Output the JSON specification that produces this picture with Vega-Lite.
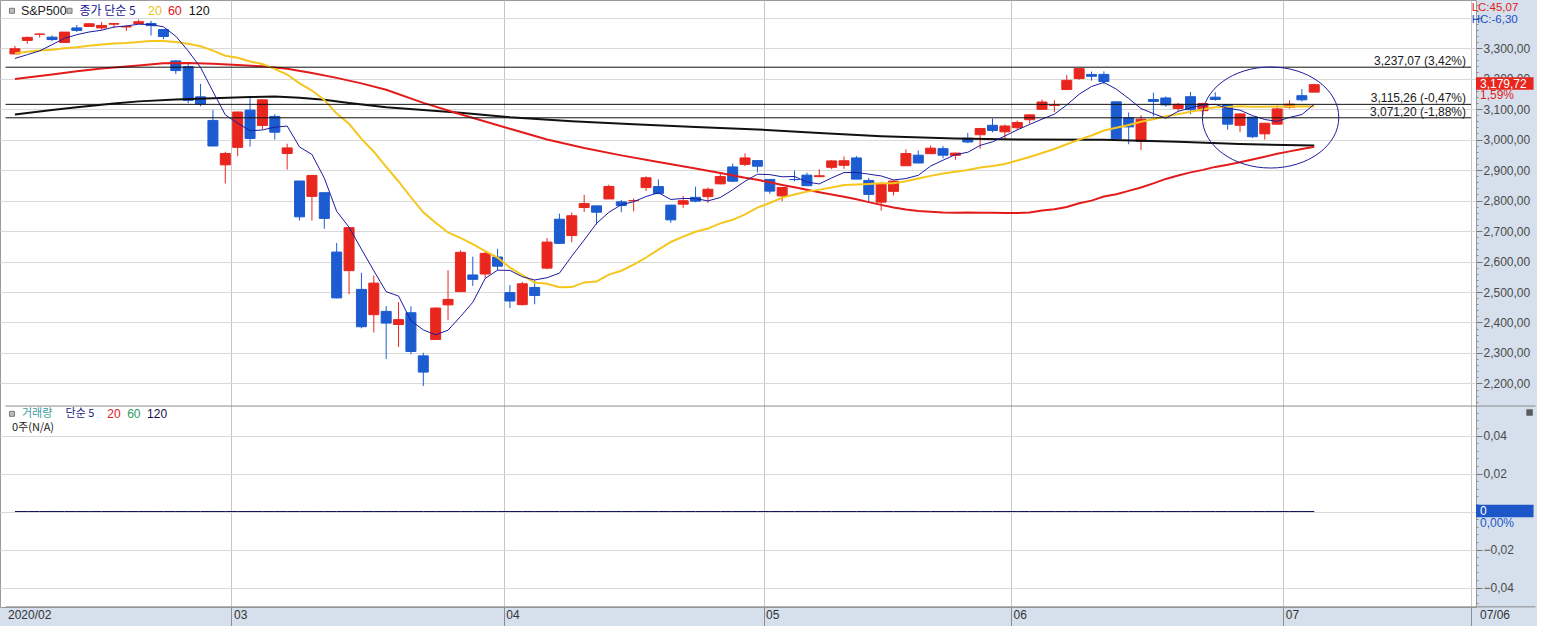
{
"$schema": "https://vega.github.io/schema/vega-lite/v6.json",
"width": 1476,
"height": 607,
"padding": 0,
"background": "#d6e0ec",
"config": {"view": {"fill": "#ffffff", "stroke": "#9a9a9a", "strokeWidth": 1}, "font": "Liberation Sans"},
"datasets": {
"candles": [
{"i":0,"o":3280.61,"h":3306.92,"l":3280.61,"c":3297.59,"m5":3265.82,"m20":3282.49,"m60":3198,"m120":3082,"v":0},
{"i":1,"o":3324.91,"h":3337.58,"l":3313.75,"c":3334.69,"m5":3278.08,"m20":3287.37,"v":0},
{"i":2,"o":3344.92,"h":3347.96,"l":3334.39,"c":3345.78,"m5":3290.50,"m20":3292.00,"v":0},
{"i":3,"o":3335.54,"h":3341.42,"l":3322.12,"c":3327.71,"m5":3310.94,"m20":3294.65,"m60":3213,"m120":3097,"v":0},
{"i":4,"o":3318.28,"h":3352.26,"l":3317.77,"c":3352.09,"m5":3331.57,"m20":3298.99,"v":0},
{"i":5,"o":3365.87,"h":3375.63,"l":3352.72,"c":3357.75,"m5":3343.60,"m20":3302.47,"m60":3224,"m120":3106,"v":0},
{"i":6,"o":3370.50,"h":3381.47,"l":3369.72,"c":3379.45,"m5":3352.56,"m20":3307.29,"v":0},
{"i":7,"o":3365.90,"h":3385.09,"l":3360.52,"c":3373.94,"m5":3358.19,"m20":3311.52,"m60":3233,"v":0},
{"i":8,"o":3378.08,"h":3380.69,"l":3366.15,"c":3380.16,"m5":3368.68,"m20":3314.69,"m120":3118,"v":0},
{"i":9,"o":3369.04,"h":3375.01,"l":3355.61,"c":3370.29,"m5":3372.32,"m20":3316.72,"v":0},
{"i":10,"o":3380.39,"h":3393.52,"l":3378.83,"c":3386.15,"m5":3378.00,"m20":3319.99,"m60":3243,"m120":3125,"v":0},
{"i":11,"o":3380.45,"h":3389.15,"l":3341.02,"c":3373.23,"m5":3376.75,"m20":3322.56,"v":0},
{"i":12,"o":3360.50,"h":3360.76,"l":3328.45,"c":3337.75,"m5":3369.52,"m20":3323.17,"m60":3250,"v":0},
{"i":13,"o":3257.61,"h":3259.81,"l":3214.65,"c":3225.89,"m5":3338.66,"m20":3319.69,"m120":3131,"v":0},
{"i":14,"o":3238.94,"h":3246.99,"l":3118.77,"c":3128.21,"m5":3290.25,"m20":3313.92,"m60":3251,"v":0},
{"i":15,"o":3139.90,"h":3182.51,"l":3108.99,"c":3116.39,"m5":3236.29,"m20":3305.93,"v":0},
{"i":16,"o":3062.54,"h":3097.07,"l":2977.39,"c":2978.76,"m5":3157.40,"m20":3291.20,"m60":3248,"m120":3135,"v":0},
{"i":17,"o":2916.90,"h":2959.72,"l":2855.84,"c":2954.22,"m5":3080.69,"m20":3274.72,"v":0},
{"i":18,"o":2974.28,"h":3090.96,"l":2945.19,"c":3090.23,"m5":3053.56,"m20":3267.96,"m60":3244,"v":0},
{"i":19,"o":3096.46,"h":3136.72,"l":2976.63,"c":3003.37,"m5":3028.59,"m20":3255.68,"m120":3139,"v":0},
{"i":20,"o":3045.75,"h":3130.97,"l":3034.38,"c":3130.12,"m5":3031.34,"m20":3247.31,"m60":3240,"v":0},
{"i":21,"o":3075.70,"h":3083.04,"l":2999.83,"c":3023.94,"m5":3040.38,"m20":3231.77,"m120":3141,"v":0},
{"i":22,"o":2954.20,"h":2985.93,"l":2901.54,"c":2972.37,"m5":3044.01,"m20":3213.10,"m60":3232,"v":0},
{"i":23,"o":2863.89,"h":2863.89,"l":2734.43,"c":2746.56,"m5":2975.27,"m20":3184.04,"m120":3137,"v":0},
{"i":24,"o":2813.48,"h":2882.59,"l":2734.00,"c":2882.23,"m5":2951.04,"m20":3160.55,"m60":3218,"v":0},
{"i":25,"o":2825.60,"h":2825.60,"l":2707.22,"c":2741.38,"m5":2873.30,"m20":3129.73,"m120":3130,"v":0},
{"i":26,"o":2630.86,"h":2660.95,"l":2478.86,"c":2480.64,"m5":2764.64,"m20":3084.79,"m60":3202,"v":0},
{"i":27,"o":2569.99,"h":2711.33,"l":2492.37,"c":2711.02,"m5":2712.37,"m20":3051.65,"m120":3120,"v":0},
{"i":28,"o":2508.59,"h":2562.98,"l":2380.94,"c":2386.13,"m5":2640.28,"m20":3001.94,"m60":3184,"v":0},
{"i":29,"o":2425.66,"h":2553.93,"l":2367.04,"c":2529.19,"m5":2569.67,"m20":2959.89,"v":0},
{"i":30,"o":2436.50,"h":2453.57,"l":2280.52,"c":2398.10,"m5":2501.02,"m20":2910.49,"m60":3163,"m120":3106,"v":0},
{"i":31,"o":2393.48,"h":2466.97,"l":2319.78,"c":2409.39,"m5":2486.77,"m20":2862.29,"v":0},
{"i":32,"o":2431.94,"h":2453.01,"l":2295.56,"c":2304.92,"m5":2405.55,"m20":2810.65,"v":0},
{"i":33,"o":2290.71,"h":2300.73,"l":2191.86,"c":2237.40,"m5":2375.80,"m20":2761.23,"m60":3120,"m120":3097,"v":0},
{"i":34,"o":2344.44,"h":2449.71,"l":2344.44,"c":2447.33,"m5":2359.43,"m20":2727.18,"v":0},
{"i":35,"o":2457.77,"h":2571.42,"l":2407.53,"c":2475.56,"m5":2374.92,"m20":2695.14,"v":0},
{"i":36,"o":2501.29,"h":2637.01,"l":2500.72,"c":2630.07,"m5":2419.06,"m20":2677.71,"m60":3083,"m120":3088,"v":0},
{"i":37,"o":2555.87,"h":2615.91,"l":2520.02,"c":2541.47,"m5":2466.37,"m20":2657.07,"v":0},
{"i":38,"o":2558.98,"h":2631.80,"l":2545.28,"c":2626.65,"m5":2544.22,"m20":2633.89,"v":0},
{"i":39,"o":2614.69,"h":2641.39,"l":2571.15,"c":2584.59,"m5":2571.67,"m20":2612.95,"v":0},
{"i":40,"o":2498.08,"h":2522.75,"l":2447.49,"c":2470.50,"m5":2570.66,"m20":2579.97,"m60":3035,"m120":3073,"v":0},
{"i":41,"o":2458.54,"h":2533.22,"l":2455.79,"c":2526.90,"m5":2550.02,"m20":2555.12,"v":0},
{"i":42,"o":2514.92,"h":2538.18,"l":2459.96,"c":2488.65,"m5":2539.46,"m20":2530.93,"v":0},
{"i":43,"o":2578.28,"h":2676.85,"l":2574.57,"c":2663.68,"m5":2546.86,"m20":2526.79,"m60":3000,"v":0},
{"i":44,"o":2738.65,"h":2756.89,"l":2657.67,"c":2659.41,"m5":2561.83,"m20":2515.65,"v":0},
{"i":45,"o":2685.00,"h":2760.75,"l":2663.30,"c":2749.98,"m5":2617.72,"m20":2516.08,"m120":3060,"v":0},
{"i":46,"o":2776.99,"h":2818.57,"l":2762.36,"c":2789.82,"m5":2670.31,"m20":2531.54,"m60":2972,"v":0},
{"i":47,"o":2782.46,"h":2782.46,"l":2721.17,"c":2761.63,"m5":2724.90,"m20":2534.07,"v":0},
{"i":48,"o":2805.10,"h":2851.85,"l":2805.10,"c":2846.06,"m5":2761.38,"m20":2557.07,"v":0},
{"i":49,"o":2795.64,"h":2801.88,"l":2761.54,"c":2783.36,"m5":2786.17,"m20":2569.77,"m60":2948,"v":0},
{"i":50,"o":2799.34,"h":2806.51,"l":2764.32,"c":2799.55,"m5":2796.08,"m20":2589.85,"m120":3050,"v":0},
{"i":51,"o":2842.43,"h":2879.22,"l":2830.88,"c":2874.56,"m5":2813.03,"m20":2613.10,"v":0},
{"i":52,"o":2845.62,"h":2868.98,"l":2820.43,"c":2823.16,"m5":2825.34,"m20":2639.02,"m60":2926,"v":0},
{"i":53,"o":2784.81,"h":2785.54,"l":2727.10,"c":2736.56,"m5":2803.44,"m20":2663.97,"v":0},
{"i":54,"o":2787.89,"h":2815.10,"l":2775.95,"c":2799.31,"m5":2806.63,"m20":2681.57,"v":0},
{"i":55,"o":2810.42,"h":2844.90,"l":2794.26,"c":2797.80,"m5":2806.28,"m20":2697.69,"m60":2905,"m120":3041,"v":0},
{"i":56,"o":2812.64,"h":2842.71,"l":2791.76,"c":2836.74,"m5":2798.71,"m20":2708.02,"v":0},
{"i":57,"o":2854.65,"h":2887.72,"l":2852.89,"c":2878.48,"m5":2809.78,"m20":2724.87,"m60":2890,"v":0},
{"i":58,"o":2909.96,"h":2921.15,"l":2860.71,"c":2863.39,"m5":2835.14,"m20":2736.71,"v":0},
{"i":59,"o":2918.46,"h":2954.86,"l":2912.16,"c":2939.51,"m5":2863.18,"m20":2754.45,"m60":2874.36,"v":0},
{"i":60,"o":2930.91,"h":2930.91,"l":2892.47,"c":2912.43,"m5":2886.11,"m20":2776.55,"m60":2867.94,"m120":3033,"v":0},
{"i":61,"o":2869.09,"h":2869.09,"l":2821.61,"c":2830.71,"m5":2884.90,"m20":2791.74,"m60":2859.54,"v":0},
{"i":62,"o":2815.01,"h":2844.24,"l":2797.85,"c":2842.74,"m5":2877.76,"m20":2809.44,"m60":2851.16,"v":0},
{"i":63,"o":2868.88,"h":2898.23,"l":2863.55,"c":2868.44,"m5":2878.77,"m20":2819.68,"m60":2843.51,"v":0},
{"i":64,"o":2883.14,"h":2891.11,"l":2847.65,"c":2848.42,"m5":2860.55,"m20":2829.13,"m60":2835.11,"v":0},
{"i":65,"o":2878.26,"h":2901.92,"l":2876.48,"c":2881.19,"m5":2854.30,"m20":2835.69,"m60":2827.17,"m120":3021,"v":0},
{"i":66,"o":2908.83,"h":2932.16,"l":2902.88,"c":2929.80,"m5":2874.12,"m20":2842.69,"m60":2819.67,"v":0},
{"i":67,"o":2915.46,"h":2944.25,"l":2903.44,"c":2930.32,"m5":2891.63,"m20":2851.13,"m60":2812.28,"v":0},
{"i":68,"o":2939.50,"h":2945.82,"l":2869.59,"c":2870.12,"m5":2891.97,"m20":2852.33,"m60":2803.78,"v":0},
{"i":69,"o":2865.86,"h":2874.14,"l":2793.15,"c":2820.00,"m5":2886.29,"m20":2854.16,"m60":2794.61,"v":0},
{"i":70,"o":2794.54,"h":2852.80,"l":2766.64,"c":2852.50,"m5":2880.55,"m20":2856.81,"m60":2785.71,"m120":3011,"v":0},
{"i":71,"o":2829.95,"h":2865.01,"l":2816.78,"c":2863.70,"m5":2867.33,"m20":2856.27,"m60":2777.22,"v":0},
{"i":72,"o":2913.86,"h":2968.09,"l":2913.86,"c":2953.91,"m5":2872.05,"m20":2862.80,"m60":2770.82,"v":0},
{"i":73,"o":2948.59,"h":2964.21,"l":2922.35,"c":2922.94,"m5":2882.61,"m20":2872.12,"m60":2765.78,"v":0},
{"i":74,"o":2953.63,"h":2980.29,"l":2953.63,"c":2971.61,"m5":2912.93,"m20":2880.74,"m60":2763.17,"v":0},
{"i":75,"o":2969.95,"h":2978.50,"l":2938.57,"c":2948.51,"m5":2932.13,"m20":2888.27,"m60":2760.37,"v":0},
{"i":76,"o":2948.05,"h":2956.76,"l":2933.59,"c":2955.45,"m5":2950.48,"m20":2894.21,"m60":2759.98,"m120":3003,"v":0},
{"i":77,"o":3004.08,"h":3021.72,"l":2988.17,"c":2991.77,"m5":2958.06,"m20":2899.87,"m60":2760.60,"v":0},
{"i":78,"o":3015.65,"h":3036.25,"l":2969.75,"c":3036.13,"m5":2980.69,"m20":2908.51,"m60":2759.70,"v":0},
{"i":79,"o":3046.61,"h":3068.67,"l":3023.40,"c":3029.73,"m5":2992.32,"m20":2913.02,"m60":2760.14,"v":0},
{"i":80,"o":3025.17,"h":3049.17,"l":2998.61,"c":3044.31,"m5":3011.48,"m20":2919.62,"m60":2758.71,"v":0},
{"i":81,"o":3038.78,"h":3062.18,"l":3031.54,"c":3055.73,"m5":3031.53,"m20":2930.87,"m60":2759.24,"m120":3000,"v":0},
{"i":82,"o":3064.78,"h":3081.07,"l":3051.64,"c":3080.82,"m5":3049.34,"m20":2942.77,"m60":2761.05,"v":0},
{"i":83,"o":3098.90,"h":3130.94,"l":3098.90,"c":3122.87,"m5":3066.69,"m20":2955.49,"m60":2767.32,"v":0},
{"i":84,"o":3111.56,"h":3128.91,"l":3090.41,"c":3112.35,"m5":3083.22,"m20":2968.69,"m60":2771.16,"v":0},
{"i":85,"o":3163.84,"h":3211.72,"l":3163.84,"c":3193.93,"m5":3113.14,"m20":2984.33,"m60":2778.70,"v":0},
{"i":86,"o":3199.92,"h":3233.13,"l":3196.00,"c":3232.39,"m5":3148.47,"m20":2999.45,"m60":2791.23,"v":0},
{"i":87,"o":3213.32,"h":3222.71,"l":3193.11,"c":3207.18,"m5":3173.74,"m20":3013.30,"m60":2799.50,"v":0},
{"i":88,"o":3213.42,"h":3223.27,"l":3181.49,"c":3190.14,"m5":3187.20,"m20":3029.30,"m60":2812.90,"m120":2999,"v":0},
{"i":89,"o":3123.53,"h":3123.53,"l":2999.49,"c":3002.10,"m5":3165.15,"m20":3038.40,"m60":2820.78,"v":0},
{"i":90,"o":3071.04,"h":3088.42,"l":2984.47,"c":3041.31,"m5":3134.62,"m20":3047.84,"m60":2831.50,"v":0},
{"i":91,"o":2993.76,"h":3079.76,"l":2965.66,"c":3066.59,"m5":3101.46,"m20":3057.99,"m60":2842.45,"v":0},
{"i":92,"o":3131.00,"h":3153.45,"l":3076.06,"c":3124.74,"m5":3084.98,"m20":3066.53,"m60":2856.12,"v":0},
{"i":93,"o":3136.13,"h":3141.16,"l":3108.03,"c":3113.49,"m5":3069.65,"m20":3076.06,"m60":2870.72,"v":0},
{"i":94,"o":3101.64,"h":3120.00,"l":3093.51,"c":3115.34,"m5":3092.29,"m20":3083.24,"m60":2881.85,"m120":2993,"v":0},
{"i":95,"o":3140.29,"h":3155.53,"l":3083.11,"c":3097.74,"m5":3103.58,"m20":3090.71,"m60":2892.22,"v":0},
{"i":96,"o":3094.42,"h":3120.92,"l":3079.39,"c":3117.86,"m5":3113.83,"m20":3098.83,"m60":2900.35,"v":0},
{"i":97,"o":3138.70,"h":3154.90,"l":3127.12,"c":3131.29,"m5":3115.14,"m20":3105.80,"m60":2910.18,"v":0},
{"i":98,"o":3114.40,"h":3115.01,"l":3032.13,"c":3050.33,"m5":3102.51,"m20":3106.51,"m60":2917.24,"v":0},
{"i":99,"o":3046.60,"h":3086.25,"l":3024.01,"c":3083.76,"m5":3096.20,"m20":3109.21,"m60":2925.56,"m120":2985,"v":0},
{"i":100,"o":3073.20,"h":3073.73,"l":3004.63,"c":3009.05,"m5":3078.46,"m20":3107.45,"m60":2934.54,"v":0},
{"i":101,"o":3018.59,"h":3053.89,"l":2999.74,"c":3053.24,"m5":3065.53,"m20":3107.33,"m60":2943.31,"v":0},
{"i":102,"o":3050.20,"h":3111.51,"l":3047.83,"c":3100.29,"m5":3059.33,"m20":3108.30,"m60":2953.50,"v":0},
{"i":103,"o":3105.92,"h":3128.44,"l":3101.17,"c":3115.86,"m5":3072.44,"m20":3107.95,"m60":2961.04,"v":0},
{"i":104,"o":3143.64,"h":3165.81,"l":3124.52,"c":3130.01,"m5":3081.69,"m20":3108.83,"m60":2968.88,"v":0},
{"i":105,"o":3155.29,"h":3182.59,"l":3155.29,"c":3179.72,"m5":3115.82,"m20":3108.12,"m60":2976.05,"m120":2980,"v":0}
],
"levels": [
{"lv":3237.07,"t":"3,237,07 (3,42%)"},
{"lv":3115.26,"t":"3,115,26 (-0,47%)"},
{"lv":3071.20,"t":"3,071,20 (-1,88%)"}
]
},
"resolve": {"scale": {"y": "independent"}, "axis": {"y": "independent"}},
"layer": [
{"data": {"name": "candles"},
 "mark": {"type": "rule", "strokeWidth": 1},
 "encoding": {
  "x": {"field": "i", "type": "quantitative", "scale": {"domain": [-0.803, 117.666], "nice": false, "zero": false},
   "axis": {"values": [17.5, 39.5, 60.5, 80.5, 102.5, 117.666], "title": null, "grid": true, "gridColor": "#c6c6c6",
    "domain": false, "ticks": true, "tickSize": 19, "tickColor": "#8c8c8c",
    "labelExpr": "datum.value < 20 ? '03' : datum.value < 40 ? '04' : datum.value < 61 ? '05' : datum.value < 81 ? '06' : datum.value < 110 ? '07' : ''",
    "labelAlign": "left", "labelBaseline": "top", "labelPadding": -17, "labelOffset": 2,
    "labelFont": "Liberation Sans", "labelFontSize": 12, "labelColor": "#333333",
    "labelOverlap": false, "labelFlush": false, "labelBound": false}},
  "y": {"field": "l", "type": "quantitative", "scale": {"domain": [1467.21, 3457.38], "nice": false, "zero": false},
   "axis": {"orient": "right", "title": null,
    "values": [2200,2300,2400,2500,2600,2700,2800,2900,3000,3100,3200,3300,3400],
    "grid": true, "gridColor": "#d9d9d9",
    "domain": false, "ticks": true, "tickColor": "#777777", "tickSize": 6,
    "labelExpr": "datum.value <= 3300 ? replace(format(datum.value, ',.2f'), '.', ',') : ''",
    "labelPadding": 1, "labelFont": "Liberation Sans", "labelFontSize": 12, "labelColor": "#4a4a4a", "labelBaseline": "middle",
    "labelOverlap": false, "labelBound": false, "labelFlush": false}},
  "y2": {"field": "h"},
  "color": {"condition": {"test": "datum.c >= datum.o", "value": "#e8261e"}, "value": "#1c5cd0"}
 }},
{"data": {"name": "candles"},
 "mark": {"type": "bar", "size": 10, "strokeWidth": 1, "orient": "vertical", "opacity": 1},
 "encoding": {
  "x": {"field": "i", "type": "quantitative"},
  "y": {"field": "o", "type": "quantitative", "scale": {"domain": [1467.21, 3457.38], "nice": false, "zero": false}, "axis": null},
  "y2": {"field": "c"},
  "color": {"condition": {"test": "datum.c >= datum.o", "value": "#e8261e"}, "value": "#1c5cd0"},
  "stroke": {"condition": {"test": "datum.c >= datum.o", "value": "#e8261e"}, "value": "#1c5cd0"}
 }},
{"data": {"name": "candles"}, "transform": [{"filter": "isValid(datum.m120)"}],
 "mark": {"type": "line", "color": "#111111", "strokeWidth": 2},
 "encoding": {"x": {"field": "i", "type": "quantitative"}, "y": {"field": "m120", "type": "quantitative", "scale": {"domain": [1467.21, 3457.38], "nice": false, "zero": false}, "axis": null}}},
{"data": {"name": "candles"}, "transform": [{"filter": "isValid(datum.m60)"}],
 "mark": {"type": "line", "color": "#e31b1b", "strokeWidth": 2},
 "encoding": {"x": {"field": "i", "type": "quantitative"}, "y": {"field": "m60", "type": "quantitative", "scale": {"domain": [1467.21, 3457.38], "nice": false, "zero": false}, "axis": null}}},
{"data": {"name": "candles"},
 "mark": {"type": "line", "color": "#f5c61e", "strokeWidth": 2},
 "encoding": {"x": {"field": "i", "type": "quantitative"}, "y": {"field": "m20", "type": "quantitative", "scale": {"domain": [1467.21, 3457.38], "nice": false, "zero": false}, "axis": null}}},
{"data": {"name": "candles"},
 "mark": {"type": "line", "color": "#1c1ca0", "strokeWidth": 1},
 "encoding": {"x": {"field": "i", "type": "quantitative"}, "y": {"field": "m5", "type": "quantitative", "scale": {"domain": [1467.21, 3457.38], "nice": false, "zero": false}, "axis": null}}},
{"data": {"name": "levels"},
 "mark": {"type": "rule", "color": "#111111", "strokeWidth": 1},
 "encoding": {"x": {"datum": -0.76, "type": "quantitative"}, "x2": {"datum": 117.666}, "y": {"field": "lv", "type": "quantitative", "scale": {"domain": [1467.21, 3457.38], "nice": false, "zero": false}, "axis": null}}},
{"data": {"name": "levels"},
 "mark": {"type": "text", "align": "right", "baseline": "alphabetic", "dy": -2, "font": "Liberation Sans", "fontSize": 12, "color": "#1a1a1a"},
 "encoding": {"x": {"datum": 117.265, "type": "quantitative"}, "y": {"field": "lv", "type": "quantitative", "scale": {"domain": [1467.21, 3457.38], "nice": false, "zero": false}, "axis": null}, "text": {"field": "t"}}},
{"data": {"values": [{}]},
 "mark": {"type": "point", "shape": "M 1 0 C 1 0.4091 0.5523 0.7407 0 0.7407 C -0.5523 0.7407 -1 0.4091 -1 0 C -1 -0.4091 -0.5523 -0.7407 0 -0.7407 C 0.5523 -0.7407 1 -0.4091 1 0 Z", "size": 18605, "filled": false, "stroke": "#1e1e9a", "strokeWidth": 1, "opacity": 1},
 "encoding": {"x": {"datum": 101.47, "type": "quantitative"}, "y": {"datum": 3072.1, "type": "quantitative", "scale": {"domain": [1467.21, 3457.38], "nice": false, "zero": false}, "axis": null}}},
{"data": {"values": [{"x": -0.241}, {"x": 4.414}]},
 "mark": {"type": "point", "shape": "square", "size": 25, "filled": true, "fill": "#bdbdbd", "stroke": "#7a7a7a", "strokeWidth": 1, "opacity": 1},
 "encoding": {"x": {"field": "x", "type": "quantitative"}, "y": {"datum": 3422, "type": "quantitative", "scale": {"domain": [1467.21, 3457.38], "nice": false, "zero": false}, "axis": null}}},
{"data": {"values": [{}]},
 "mark": {"type": "text", "align": "left", "baseline": "middle", "font": "Liberation Sans", "fontSize": 12.5, "color": "#222222", "text": "S&P500"},
 "encoding": {"x": {"datum": 0.482, "type": "quantitative"}, "y": {"datum": 3422, "type": "quantitative", "scale": {"domain": [1467.21, 3457.38], "nice": false, "zero": false}, "axis": null}}},
{"data": {"values": [{}]},
 "mark": {"type": "text", "align": "left", "baseline": "middle", "font": "Noto Sans CJK KR", "fontSize": 12, "color": "#16168e", "text": "종가 단순 5"},
 "encoding": {"x": {"datum": 5.217, "type": "quantitative"}, "y": {"datum": 3422, "type": "quantitative", "scale": {"domain": [1467.21, 3457.38], "nice": false, "zero": false}, "axis": null}}},
{"data": {"values": [{}]},
 "mark": {"type": "text", "align": "left", "baseline": "middle", "font": "Liberation Sans", "fontSize": 12.5, "color": "#e8c21a", "text": "20"},
 "encoding": {"x": {"datum": 10.755, "type": "quantitative"}, "y": {"datum": 3422, "type": "quantitative", "scale": {"domain": [1467.21, 3457.38], "nice": false, "zero": false}, "axis": null}}},
{"data": {"values": [{}]},
 "mark": {"type": "text", "align": "left", "baseline": "middle", "font": "Liberation Sans", "fontSize": 12.5, "color": "#e01818", "text": "60"},
 "encoding": {"x": {"datum": 12.36, "type": "quantitative"}, "y": {"datum": 3422, "type": "quantitative", "scale": {"domain": [1467.21, 3457.38], "nice": false, "zero": false}, "axis": null}}},
{"data": {"values": [{}]},
 "mark": {"type": "text", "align": "left", "baseline": "middle", "font": "Liberation Sans", "fontSize": 12.5, "color": "#111111", "text": "120"},
 "encoding": {"x": {"datum": 14.046, "type": "quantitative"}, "y": {"datum": 3422, "type": "quantitative", "scale": {"domain": [1467.21, 3457.38], "nice": false, "zero": false}, "axis": null}}},
{"data": {"values": [{}]},
 "mark": {"type": "text", "align": "left", "baseline": "middle", "font": "Liberation Sans", "fontSize": 11.5, "color": "#e0201c", "text": "LC:45,07"},
 "encoding": {"x": {"datum": 117.72, "type": "quantitative"}, "y": {"datum": 3431, "type": "quantitative", "scale": {"domain": [1467.21, 3457.38], "nice": false, "zero": false}, "axis": null}}},
{"data": {"values": [{}]},
 "mark": {"type": "text", "align": "left", "baseline": "middle", "font": "Liberation Sans", "fontSize": 11.5, "color": "#2050c8", "text": "HC:-6,30"},
 "encoding": {"x": {"datum": 117.72, "type": "quantitative"}, "y": {"datum": 3393, "type": "quantitative", "scale": {"domain": [1467.21, 3457.38], "nice": false, "zero": false}, "axis": null}}},
{"data": {"values": [{}]},
 "mark": {"type": "rect", "color": "#e8261e"},
 "encoding": {"x": {"datum": 118.07, "type": "quantitative"}, "x2": {"datum": 122.72}, "y": {"datum": 3204.3, "type": "quantitative", "scale": {"domain": [1467.21, 3457.38], "nice": false, "zero": false}, "axis": null}, "y2": {"datum": 3163.0}}},
{"data": {"values": [{}]},
 "mark": {"type": "text", "align": "left", "baseline": "middle", "font": "Liberation Sans", "fontSize": 12, "color": "#ffffff", "text": "3,179,72"},
 "encoding": {"x": {"datum": 118.39, "type": "quantitative"}, "y": {"datum": 3183.6, "type": "quantitative", "scale": {"domain": [1467.21, 3457.38], "nice": false, "zero": false}, "axis": null}}},
{"data": {"values": [{}]},
 "mark": {"type": "text", "align": "left", "baseline": "middle", "font": "Liberation Sans", "fontSize": 12, "color": "#e0201c", "text": "1,59%"},
 "encoding": {"x": {"datum": 118.39, "type": "quantitative"}, "y": {"datum": 3144.3, "type": "quantitative", "scale": {"domain": [1467.21, 3457.38], "nice": false, "zero": false}, "axis": null}}},
{"data": {"values": [{}]},
 "mark": {"type": "rect", "opacity": 0},
 "encoding": {"x": {"datum": -0.79, "type": "quantitative"}, "x2": {"datum": 122.88}, "y": {"datum": 3455.7, "type": "quantitative", "scale": {"domain": [1467.21, 3457.38], "nice": false, "zero": false}, "axis": null}, "y2": {"datum": 1406.5}}},
{"data": {"values": [{}]},
 "mark": {"type": "point", "opacity": 0},
 "encoding": {"x": {"datum": 50, "type": "quantitative"}, "y": {"datum": 3000, "type": "quantitative", "scale": {"domain": [1467.21, 3457.38], "nice": false, "zero": false},
  "axis": {"orient": "right", "title": null, "values": [2140,2160,2180,2220,2240,2260,2280,2320,2340,2360,2380,2420,2440,2460,2480,2520,2540,2560,2580,2620,2640,2660,2680,2720,2740,2760,2780,2820,2840,2860,2880,2920,2940,2960,2980,3020,3040,3060,3080,3120,3140,3160,3180,3220,3240,3260,3280,3320,3340,3360,3380,3420,3440],
   "labels": false, "grid": false, "domain": false, "ticks": true, "tickSize": 2, "tickColor": "#888888"}}}},
{"data": {"name": "candles"},
 "mark": {"type": "line", "color": "#14145a", "strokeWidth": 1},
 "encoding": {
  "x": {"field": "i", "type": "quantitative"},
  "y": {"field": "v", "type": "quantitative", "scale": {"domain": [-0.050263, 0.269211], "nice": false, "zero": false},
   "axis": {"orient": "right", "title": null,
    "values": [-0.04, -0.02, 0, 0.02, 0.04],
    "grid": true, "gridColor": "#d9d9d9",
    "domain": false, "ticks": true, "tickColor": "#777777", "tickSize": 6,
    "labelExpr": "datum.value != 0 ? replace(format(datum.value, '.2f'), '.', ',') : ''",
    "labelPadding": 1, "labelFont": "Liberation Sans", "labelFontSize": 12, "labelColor": "#4a4a4a", "labelBaseline": "middle",
    "labelOverlap": false, "labelBound": false, "labelFlush": false}}
 }},
{"data": {"values": [{}]},
 "mark": {"type": "point", "opacity": 0},
 "encoding": {"x": {"datum": 50, "type": "quantitative"}, "y": {"datum": 0.1, "type": "quantitative", "scale": {"domain": [-0.050263, 0.269211], "nice": false, "zero": false},
  "axis": {"orient": "right", "title": null, "values": [-0.048,-0.044,-0.036,-0.032,-0.028,-0.024,-0.016,-0.012,-0.008,-0.004,0.004,0.008,0.012,0.016,0.024,0.028,0.032,0.036,0.044,0.048,0.052],
   "labels": false, "grid": false, "domain": false, "ticks": true, "tickSize": 2, "tickColor": "#888888"}}}},
{"data": {"values": [{"y": 0.0555}, {"y": -0.0502}]},
 "mark": {"type": "rule", "color": "#8a8a8a", "strokeWidth": 1},
 "encoding": {"x": {"datum": -0.76, "type": "quantitative"}, "x2": {"datum": 122.88}, "y": {"field": "y", "type": "quantitative", "scale": {"domain": [-0.050263, 0.269211], "nice": false, "zero": false}, "axis": null}}},
{"data": {"values": [{}]},
 "mark": {"type": "point", "shape": "square", "size": 25, "filled": true, "fill": "#bdbdbd", "stroke": "#7a7a7a", "strokeWidth": 1, "opacity": 1},
 "encoding": {"x": {"datum": -0.241, "type": "quantitative"}, "y": {"datum": 0.0514, "type": "quantitative", "scale": {"domain": [-0.050263, 0.269211], "nice": false, "zero": false}, "axis": null}}},
{"data": {"values": [{}]},
 "mark": {"type": "text", "align": "left", "baseline": "middle", "font": "Noto Sans CJK KR", "fontSize": 11, "color": "#3c9c9c", "text": "거래량"},
 "encoding": {"x": {"datum": 0.562, "type": "quantitative"}, "y": {"datum": 0.0514, "type": "quantitative", "scale": {"domain": [-0.050263, 0.269211], "nice": false, "zero": false}, "axis": null}}},
{"data": {"values": [{}]},
 "mark": {"type": "text", "align": "left", "baseline": "middle", "font": "Noto Sans CJK KR", "fontSize": 11, "color": "#1a1a8c", "text": "단순 5"},
 "encoding": {"x": {"datum": 4.093, "type": "quantitative"}, "y": {"datum": 0.0514, "type": "quantitative", "scale": {"domain": [-0.050263, 0.269211], "nice": false, "zero": false}, "axis": null}}},
{"data": {"values": [{}]},
 "mark": {"type": "text", "align": "left", "baseline": "middle", "font": "Liberation Sans", "fontSize": 12, "color": "#e02020", "text": "20"},
 "encoding": {"x": {"datum": 7.465, "type": "quantitative"}, "y": {"datum": 0.0514, "type": "quantitative", "scale": {"domain": [-0.050263, 0.269211], "nice": false, "zero": false}, "axis": null}}},
{"data": {"values": [{}]},
 "mark": {"type": "text", "align": "left", "baseline": "middle", "font": "Liberation Sans", "fontSize": 12, "color": "#2e9a5e", "text": "60"},
 "encoding": {"x": {"datum": 9.07, "type": "quantitative"}, "y": {"datum": 0.0514, "type": "quantitative", "scale": {"domain": [-0.050263, 0.269211], "nice": false, "zero": false}, "axis": null}}},
{"data": {"values": [{}]},
 "mark": {"type": "text", "align": "left", "baseline": "middle", "font": "Liberation Sans", "fontSize": 12, "color": "#101050", "text": "120"},
 "encoding": {"x": {"datum": 10.675, "type": "quantitative"}, "y": {"datum": 0.0514, "type": "quantitative", "scale": {"domain": [-0.050263, 0.269211], "nice": false, "zero": false}, "axis": null}}},
{"data": {"values": [{}]},
 "mark": {"type": "text", "align": "left", "baseline": "middle", "font": "Noto Sans CJK KR", "fontSize": 11, "color": "#222222", "text": "0주(N/A)"},
 "encoding": {"x": {"datum": -0.241, "type": "quantitative"}, "y": {"datum": 0.0437, "type": "quantitative", "scale": {"domain": [-0.050263, 0.269211], "nice": false, "zero": false}, "axis": null}}},
{"data": {"values": [{}]},
 "mark": {"type": "rect", "color": "#1c56c8"},
 "encoding": {"x": {"datum": 118.07, "type": "quantitative"}, "x2": {"datum": 122.72}, "y": {"datum": 0.003526, "type": "quantitative", "scale": {"domain": [-0.050263, 0.269211], "nice": false, "zero": false}, "axis": null}, "y2": {"datum": -0.003}}},
{"data": {"values": [{}]},
 "mark": {"type": "text", "align": "left", "baseline": "middle", "font": "Liberation Sans", "fontSize": 12, "color": "#ffffff", "text": "0"},
 "encoding": {"x": {"datum": 118.39, "type": "quantitative"}, "y": {"datum": 0.000526, "type": "quantitative", "scale": {"domain": [-0.050263, 0.269211], "nice": false, "zero": false}, "axis": null}}},
{"data": {"values": [{}]},
 "mark": {"type": "text", "align": "left", "baseline": "middle", "font": "Liberation Sans", "fontSize": 12, "color": "#1c56c8", "text": "0,00%"},
 "encoding": {"x": {"datum": 118.39, "type": "quantitative"}, "y": {"datum": -0.00579, "type": "quantitative", "scale": {"domain": [-0.050263, 0.269211], "nice": false, "zero": false}, "axis": null}}},
{"data": {"values": [{"x": -0.562, "t": "2020/02"}, {"x": 118.39, "t": "07/06"}]},
 "mark": {"type": "text", "align": "left", "baseline": "middle", "font": "Liberation Sans", "fontSize": 12, "color": "#333333"},
 "encoding": {"x": {"field": "x", "type": "quantitative"}, "y": {"datum": -0.05447, "type": "quantitative", "scale": {"domain": [-0.050263, 0.269211], "nice": false, "zero": false}, "axis": null}, "text": {"field": "t"}}},
{"data": {"values": [{}]},
 "mark": {"type": "point", "shape": "square", "size": 42, "filled": true, "fill": "#5a5a5a", "opacity": 1},
 "encoding": {"x": {"datum": 122.4, "type": "quantitative"}, "y": {"datum": 0.0521, "type": "quantitative", "scale": {"domain": [-0.050263, 0.269211], "nice": false, "zero": false}, "axis": null}}}
]
}
